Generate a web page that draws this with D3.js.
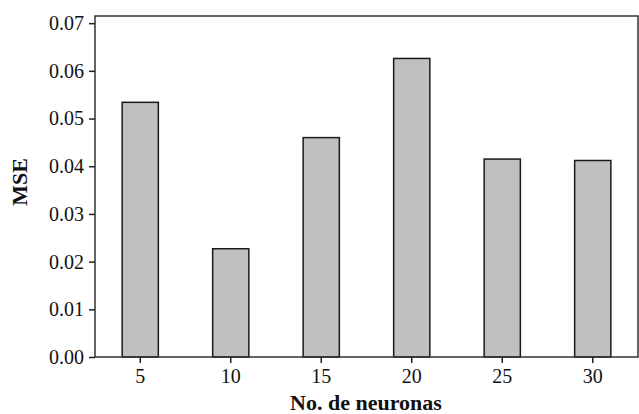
<!DOCTYPE html>
<html>
<head>
<meta charset="utf-8">
<script src="https://cdn.jsdelivr.net/npm/d3@7"></script>
<style>
  html, body { margin: 0; padding: 0; background: #fff; }
  svg { display: block; }
  text { font-family: "Liberation Serif", "Times New Roman", serif; fill: #111; }
</style>
</head>
<body>
<svg id="chart" width="639" height="414"></svg>
<script>
// Neuron counts and the mean squared error for each network size
const neurons = ["5", "10", "15", "20", "25", "30"];
const mse = [0.0534, 0.0227, 0.0460, 0.0626, 0.0415, 0.0412];
const yTicks = [0, 0.01, 0.02, 0.03, 0.04, 0.05, 0.06, 0.07];

const W = 639, H = 414;
const m = { left: 95, right: 1, top: 16, bottom: 57 };

const svg = d3.select("#chart");

const x = d3.scaleBand()
  .domain(neurons)
  .range([m.left, W - m.right])
  .paddingInner(0.6)
  .paddingOuter(0.3);

const y = d3.scaleLinear()
  .domain([0, 0.0715])
  .range([H - m.bottom, m.top]);

// bars
svg.append("g")
  .selectAll("rect")
  .data(neurons)
  .join("rect")
  .attr("x", d => x(d))
  .attr("y", (d, i) => y(mse[i]))
  .attr("width", x.bandwidth())
  .attr("height", (d, i) => y(0) - y(mse[i]))
  .attr("fill", "#c0c0c0")
  .attr("stroke", "#1a1a1a")
  .attr("stroke-width", 1.5);

// plot frame
svg.append("rect")
  .attr("x", m.left)
  .attr("y", m.top)
  .attr("width", W - m.right - m.left)
  .attr("height", H - m.bottom - m.top)
  .attr("fill", "none")
  .attr("stroke", "#333")
  .attr("stroke-width", 1.5);

// y axis
const yAxis = svg.append("g")
  .attr("transform", `translate(${m.left},0)`)
  .call(d3.axisLeft(y).tickValues(yTicks).tickFormat(d3.format(".2f")).tickSize(6).tickPadding(5));
yAxis.select(".domain").remove();
yAxis.selectAll("line").attr("stroke", "#222").attr("stroke-width", 1.5);
yAxis.selectAll("text").style("font-size", "20px").attr("fill", "#111");

// x axis
const xAxis = svg.append("g")
  .attr("transform", `translate(0,${H - m.bottom})`)
  .call(d3.axisBottom(x).tickSize(6).tickPadding(6));
xAxis.select(".domain").remove();
xAxis.selectAll("line").attr("stroke", "#222").attr("stroke-width", 1.5);
xAxis.selectAll("text").style("font-size", "20px").attr("fill", "#111");

// axis titles
svg.append("text")
  .attr("x", 366)
  .attr("y", 410)
  .attr("text-anchor", "middle")
  .style("font-size", "22px")
  .style("font-weight", "bold")
  .text("No. de neuronas");

svg.append("text")
  .attr("transform", "translate(27,182) rotate(-90)")
  .attr("text-anchor", "middle")
  .style("font-size", "22px")
  .style("font-weight", "bold")
  .text("MSE");
</script>
</body>
</html>
